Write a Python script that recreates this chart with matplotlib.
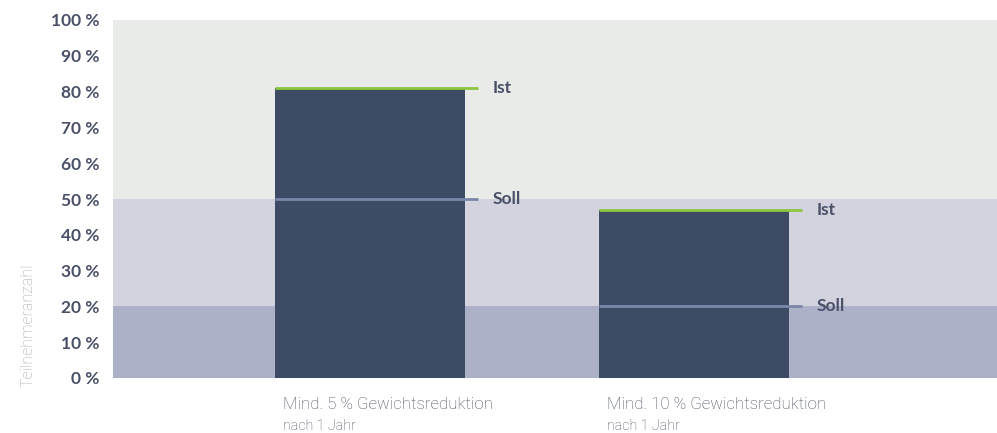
import matplotlib
matplotlib.use("Agg")
import matplotlib.pyplot as plt

categories = ["Mind. 5 % Gewichtsreduktion", "Mind. 10 % Gewichtsreduktion"]
subtitles = ["nach 1 Jahr", "nach 1 Jahr"]
ist_values = [81, 47]
soll_values = [50, 20]
yticks = [0, 10, 20, 30, 40, 50, 60, 70, 80, 90, 100]
ytick_labels = [f"{v} %" for v in yticks]
bands = [(0, 20, "#adb1c8"), (20, 50, "#d2d3de"), (50, 100, "#e9ebe8")]

fig = plt.figure(figsize=(9.97, 4.33), dpi=100)
ax = fig.add_axes([113/997, 55/433, 884/997, 358/433])

for lo, hi, c in bands:
    ax.axhspan(lo, hi, color=c, zorder=0, lw=0)

x = list(range(len(categories)))
bw = 0.586
ax.bar(x, ist_values, width=bw, color="#3d4b64", zorder=2)
ext = 0.04
for xi, ist, soll in zip(x, ist_values, soll_values):
    l = xi - bw/2
    r = xi + bw/2 + ext
    ax.plot([l, r], [ist, ist], color="#8dc63f", lw=2, zorder=3, solid_capstyle="butt")
    ax.plot([l, r], [soll, soll], color="#7a86a8", lw=2, zorder=3, solid_capstyle="butt")
    ax.text(r + 0.046, ist, "Ist", ha="left", va="center", fontsize=12.5,
            fontweight="bold", color="#4a5068", family="Lato")
    ax.text(r + 0.046, soll, "Soll", ha="left", va="center", fontsize=12.5,
            fontweight="bold", color="#4a5068", family="Lato")

for xi, cat, sub in zip(x, categories, subtitles):
    ax.text(xi - bw/2 + 0.025, -7.5, cat, ha="left", va="center", fontsize=12.2,
            color="#4a4f60", family="Roboto", fontweight="light")
    ax.text(xi - bw/2 + 0.025, -13.5, sub, ha="left", va="center", fontsize=10.3,
            color="#4a4f60", family="Roboto", fontweight="light")

ax.set_xlim(-0.793, 1.935)
ax.set_ylim(0, 100)
ax.set_yticks(yticks)
ax.set_yticklabels(ytick_labels, fontsize=12.5, fontweight="bold", color="#4a5068", family="Lato")
ax.tick_params(axis="y", length=0, pad=10)
ax.set_xticks([])
for s in ax.spines.values():
    s.set_visible(False)

fig.text(28/997, 1 - 325/433, "Teilnehmeranzahl", rotation=90, ha="center", va="center",
         fontsize=11.5, color="#a8a8a8", family="Roboto", fontweight="light")

fig.savefig("out.png", dpi=100)
